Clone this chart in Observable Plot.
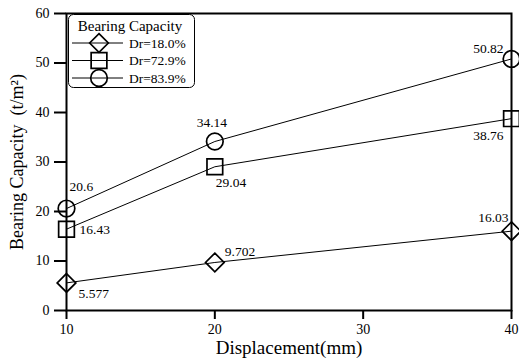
<!DOCTYPE html>
<html>
<head>
<meta charset="utf-8">
<script src="https://cdn.jsdelivr.net/npm/d3@7"></script>
<script src="https://cdn.jsdelivr.net/npm/@observablehq/plot@0.6"></script>
<style>
  html, body { margin: 0; padding: 0; background: #fff; }
  #chart { position: relative; width: 519px; height: 361px; }
  #legend { position: absolute; left: 68px; top: 14px; }
</style>
</head>
<body>
<div id="chart"></div>
<script>
// ---- data ----
const displacement = [10, 20, 40];
const seriesNames = ["Dr=18.0%", "Dr=72.9%", "Dr=83.9%"];
const valuesDr18 = [5.577, 9.702, 16.03];
const valuesDr729 = [16.43, 29.04, 38.76];
const valuesDr839 = [20.6, 34.14, 50.82];
const labelsDr18 = ["5.577", "9.702", "16.03"];
const labelsDr729 = ["16.43", "29.04", "38.76"];
const labelsDr839 = ["20.6", "34.14", "50.82"];
const xTicks = [10, 20, 30, 40];
const yTicks = [0, 10, 20, 30, 40, 50, 60];
const xTitle = "Displacement(mm)";
const yTitle = "Bearing Capacity  (t/m²)";
const legendTitle = "Bearing Capacity";

// ---- styling / placement (not data) ----
const FONT = "'Liberation Serif', 'Times New Roman', Times, serif";
const symbols = ["diamond2", "square2", "circle"];
const symbolR = [8.4, 10, 8.3];
// label offsets per series per point: [dx, dy, anchor]
const labelPlacement = [
  [[12, 11, "start"], [10, -11, "start"], [-3, -13, "end"]],
  [[13, 1, "start"], [1, 16, "start"], [-8, 17, "end"]],
  [[3, -22, "start"], [-3, -19, "middle"], [-8, -10, "end"]]
];

const allValues = [valuesDr18, valuesDr729, valuesDr839];
const allLabels = [labelsDr18, labelsDr729, labelsDr839];

const marks = [];
allValues.forEach((vals, s) => {
  const rows = displacement.map((x, i) => ({x, y: vals[i], label: allLabels[s][i], p: labelPlacement[s][i]}));
  marks.push(Plot.line(rows, {x: "x", y: "y", stroke: "black", strokeWidth: 1}));
  marks.push(Plot.dot(rows, {x: "x", y: "y", symbol: () => symbols[s], r: symbolR[s], stroke: "black", strokeWidth: 1.7, fill: "none"}));
  rows.forEach(r => {
    marks.push(Plot.text([r], {x: "x", y: "y", text: "label", dx: r.p[0], dy: r.p[1], textAnchor: r.p[2], fontSize: 13.5, fill: "black"}));
  });
});

const chart = Plot.plot({
  width: 519,
  height: 361,
  marginLeft: 66,
  marginRight: 8,
  marginTop: 13,
  marginBottom: 51,
  style: {fontFamily: FONT, fontSize: "14px", color: "black", background: "white"},
  x: {domain: [10, 40]},
  y: {domain: [0, 60]},
  marks: [
    Plot.axisX({ticks: xTicks, tickSize: 9, tickPadding: 5, strokeWidth: 2, fontSize: 14, label: null}),
    Plot.axisY({ticks: yTicks, tickSize: 12, tickPadding: 5, strokeWidth: 2, fontSize: 14,
      label: yTitle, labelAnchor: "center", labelArrow: "none", labelOffset: 56}),
    Plot.text([xTitle], {frameAnchor: "bottom", dy: 43, fontSize: 19, fill: "black"}),
    Plot.frame({stroke: "black", strokeWidth: 2}),
    ...marks
  ]
});
d3.select(chart).selectAll("[aria-label='y-axis label'] text").attr("font-size", 18);
document.getElementById("chart").appendChild(chart);

// ---- legend (inside plot area) ----
const lw = 126, lh = 73;
const leg = d3.select("#chart").append("svg").attr("id", "legend")
  .attr("width", lw + 2).attr("height", lh + 2)
  .style("font-family", FONT);
leg.append("rect").attr("x", 0.5).attr("y", 0.5).attr("width", lw).attr("height", lh)
  .attr("rx", 5).attr("fill", "white").attr("stroke", "black").attr("stroke-width", 1);
leg.append("text").attr("x", 62).attr("y", 17).attr("text-anchor", "middle")
  .attr("font-size", 15).text(legendTitle);
const symMap = {diamond2: d3.symbolDiamond2, square2: d3.symbolSquare2, circle: d3.symbolCircle};
seriesNames.forEach((name, i) => {
  const cy = 29 + i * 17.5;
  leg.append("line").attr("x1", 4).attr("x2", 55).attr("y1", cy).attr("y2", cy).attr("stroke", "black").attr("stroke-width", 1);
  leg.append("path").attr("transform", `translate(31,${cy})`)
    .attr("d", d3.symbol(symMap[symbols[i]], symbolR[i] * symbolR[i] * Math.PI)())
    .attr("fill", "none").attr("stroke", "black").attr("stroke-width", 1.7);
  leg.append("text").attr("x", 61).attr("y", cy + 4.5).attr("font-size", 13.5).text(name);
});
</script>
</body>
</html>
